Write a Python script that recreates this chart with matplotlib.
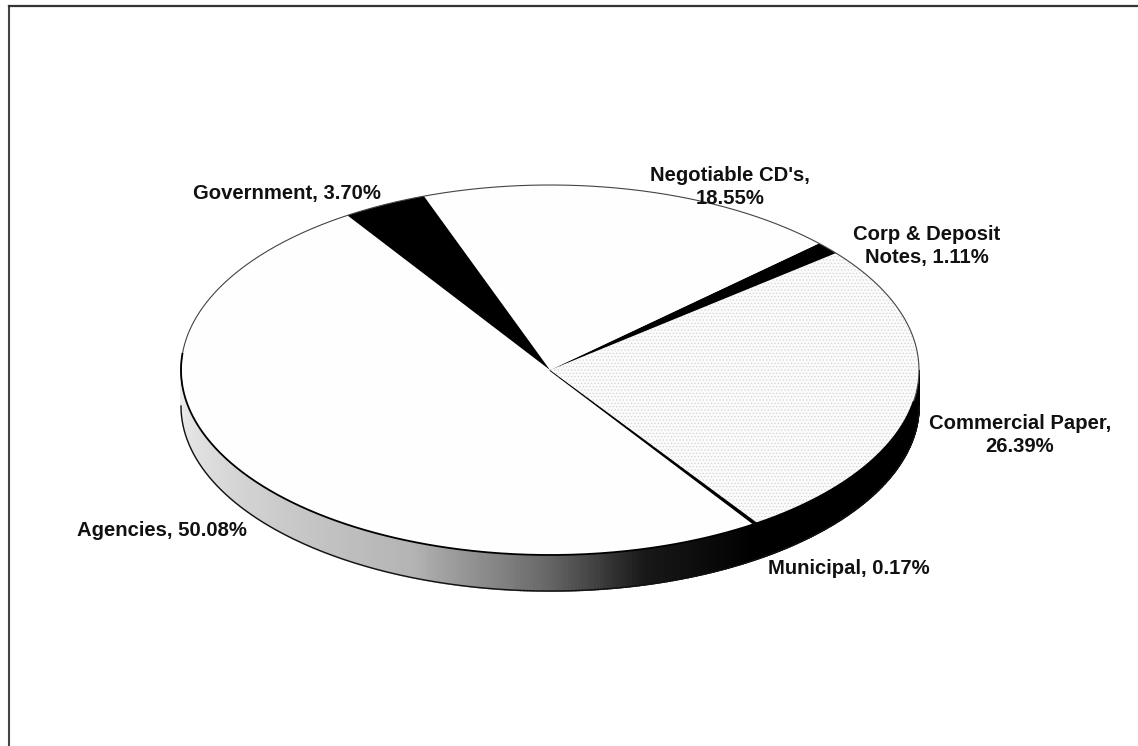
import numpy as np
import matplotlib
matplotlib.use("Agg")
import matplotlib.pyplot as plt
from matplotlib.colors import LinearSegmentedColormap
from matplotlib.lines import Line2D

plt.rcParams['font.family'] = ['Liberation Sans', 'DejaVu Sans']
plt.rcParams['hatch.linewidth'] = 0.5

# ---- DATA (counter clockwise from the upper left edge of Agencies)
names  = ["Agencies", "Municipal", "Commercial Paper", "Corp & Deposit\nNotes", "Negotiable CD's", "Government"]
values = [50.08, 0.17, 26.39, 1.11, 18.55, 3.70]
colors = ["#fefefe", "#000000", "#fbfbfb", "#000000", "#fefefe", "#000000"]
breaks = [", ", ", ", ",\n", ", ", ",\n", ", "]

W, H = 1138, 746
# pie ellipse in pixels
cx, cy, rx, ry = 550, 370, 369, 185
depth = 36 / ry
start = 123.3

fig = plt.figure(figsize=(W / 100, H / 100), dpi=100, facecolor="white")
ax = fig.add_axes([(cx - rx) / W, 1 - (cy + ry) / H, 2 * rx / W, 2 * ry / H])

# ---- SIDE OF THE PIE
side_cmap = LinearSegmentedColormap.from_list("side", [
    (0.00, "#efefef"), (0.25, "#d6d6d6"), (0.55, "#b4b4b4"),
    (0.72, "#6a6a6a"), (0.85, "#181818"), (1.00, "#000000")])
end_agencies = start + 3.6 * values[0]
th = np.radians(np.linspace(180, 360, 361))
for a, b in zip(th[:-1], th[1:]):
    deg = np.degrees(a)
    f = min((deg - 180) / (end_agencies - 180), 1.0)
    xs = [np.cos(a), np.cos(b), np.cos(b), np.cos(a)]
    ys = [np.sin(a), np.sin(b), np.sin(b) - depth, np.sin(a) - depth]
    ax.fill(xs, ys, facecolor=side_cmap(f), edgecolor=side_cmap(f), lw=1.2, clip_on=False, zorder=1)

# ---- TOP OF THE PIE
wedges, _ = ax.pie(values, colors=colors, startangle=start, counterclock=True, radius=1.0,
                   wedgeprops=dict(linewidth=0), normalize=True)
for w in wedges:
    w.set_zorder(2)
    w.set_clip_on(False)
wedges[1].set_edgecolor("#000000")
wedges[1].set_linewidth(1.3)
wedges[2].set_hatch(".....")
wedges[2].set_edgecolor("#d4d4d4")
ax.set_aspect('auto')
ax.set_xlim(-1, 1)
ax.set_ylim(-1, 1)
ax.axis('off')

# outlines
th_top = np.radians(np.linspace(-10, 185, 400))
ax.plot(np.cos(th_top), np.sin(th_top), color="#444444", lw=0.8, clip_on=False, zorder=3)
th_low = np.radians(np.linspace(175, 350, 400))
ax.plot(np.cos(th_low), np.sin(th_low), color="#000000", lw=1.3, clip_on=False, zorder=3)
th_out = np.radians(np.linspace(180, 360, 361))
ax.plot(np.cos(th_out), np.sin(th_out) - depth, color="#111111", lw=1.0, clip_on=False, zorder=3)

# ---- LABELS
label_x = [162, 849, 1020, 927, 730, 287]
label_y = [530, 568, 435, 246, 187, 194]
for name, v, sep, x, y in zip(names, values, breaks, label_x, label_y):
    fig.text(x / W, 1 - y / H, f"{name}{sep}{v:.2f}%", ha="center", va="center",
             fontsize=14.6, fontweight="bold", color="#111111", linespacing=1.3)

# ---- SCAN FRAME (only top and left survive)
fig.add_artist(Line2D([9 / W, 9 / W], [0, 1 - 6 / H], color="#444444", lw=1.5))
fig.add_artist(Line2D([9 / W, 1], [1 - 6 / H, 1 - 6 / H], color="#333333", lw=1.6))

fig.savefig("out.png", dpi=100, facecolor="white")
